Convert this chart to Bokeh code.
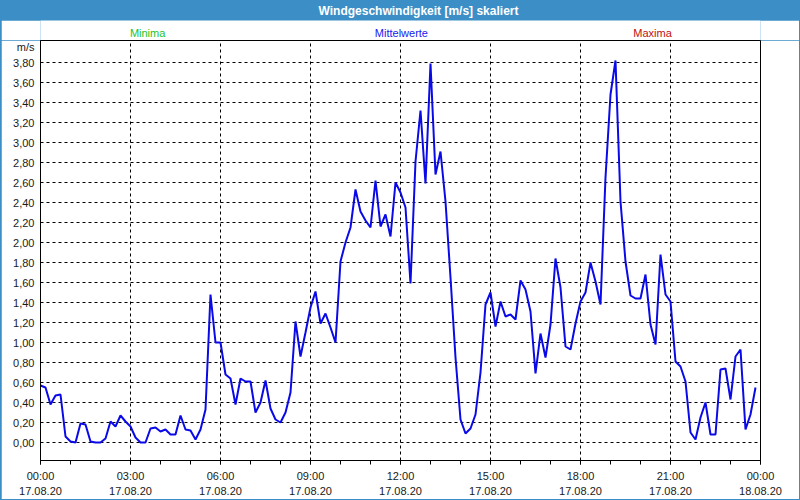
from bokeh.plotting import figure
from bokeh.layouts import column
from bokeh.models import Range1d, FixedTicker, LinearAxis, CustomJSTickFormatter
from bokeh.core.properties import value
from bokeh.embed import file_html
from bokeh.resources import INLINE

title_text = "Windgeschwindigkeit [m/s] skaliert"
series_names = ["Minima", "Mittelwerte", "Maxima"]
series_colors = ["#22c322", "#2020ee", "#c01010"]
unit_label = "m/s"

step_minutes = 10
wind_ms = [
    0.57, 0.55, 0.38, 0.47, 0.48, 0.06,
    0.01, 0.00, 0.19, 0.18, 0.01, 0.00,
    0.00, 0.04, 0.21, 0.16, 0.27, 0.21,
    0.16, 0.05, 0.00, 0.00, 0.14, 0.15,
    0.11, 0.13, 0.08, 0.08, 0.27, 0.13,
    0.12, 0.03, 0.13, 0.33, 1.48, 1.00,
    1.00, 0.68, 0.64, 0.38, 0.64, 0.61,
    0.61, 0.30, 0.40, 0.62, 0.34, 0.23,
    0.20, 0.30, 0.50, 1.21, 0.86, 1.10,
    1.35, 1.51, 1.19, 1.29, 1.15, 1.00,
    1.81, 2.00, 2.15, 2.53, 2.31, 2.22,
    2.15, 2.62, 2.16, 2.28, 2.06, 2.60,
    2.50, 2.35, 1.59, 2.81, 3.32, 2.59,
    3.79, 2.68, 2.91, 2.41, 1.65, 0.85,
    0.23, 0.09, 0.14, 0.28, 0.70, 1.38,
    1.50, 1.16, 1.41, 1.26, 1.28, 1.23,
    1.62, 1.53, 1.31, 0.69, 1.09, 0.85,
    1.18, 1.84, 1.55, 0.96, 0.93, 1.19,
    1.41, 1.50, 1.80, 1.61, 1.38, 2.65,
    3.48, 3.82, 2.41, 1.81, 1.47, 1.44,
    1.44, 1.68, 1.18, 0.98, 1.88, 1.48,
    1.41, 0.81, 0.76, 0.61, 0.10, 0.03,
    0.25, 0.40, 0.08, 0.08, 0.73, 0.74,
    0.43, 0.86, 0.93, 0.13, 0.28, 0.55,
]
hours = [i * step_minutes / 60 for i in range(len(wind_ms))]

time_ticks = [0, 3, 6, 9, 12, 15, 18, 21, 24]
time_labels = ["00:00", "03:00", "06:00", "09:00", "12:00", "15:00", "18:00", "21:00", "00:00"]
date_labels = ["17.08.20"] * 8 + ["18.08.20"]
y_ticks = [round(0.2 * i, 2) for i in range(20)]
unit_tick = 3.96  # where the unit text sits on the value axis

# layout positions (hours on the shared time scale)
title_pos = 12.6
series_pos = [3.57, 12.03, 20.4]

FONT = "Liberation Sans"
BLUE_BAR = "#3c8fc6"
TXT = "#1a1a1a"


def bare(fig, fill):
    fig.title.visible = False
    fig.outline_line_color = None
    fig.grid.visible = False
    fig.background_fill_color = fill
    fig.border_fill_color = fill
    return fig


# ---------- title bar ----------
bar = bare(figure(width=798, height=20, output_backend="svg", toolbar_location=None,
                  x_range=Range1d(0, 24), y_range=Range1d(0, 20),
                  min_border_left=39, min_border_right=39, min_border_top=0,
                  min_border_bottom=0, x_axis_location=None, y_axis_location=None),
           BLUE_BAR)
bar.text(x=[title_pos], y=[10], text=[title_text], text_color="white",
         text_font=value(FONT), text_font_style="bold", text_font_size="12px",
         text_align="center", text_baseline="middle")

# ---------- series names ----------
names = bare(figure(width=798, height=20, output_backend="svg", toolbar_location=None,
                    x_range=Range1d(0, 24), y_range=Range1d(20, 0),
                    min_border_left=39, min_border_right=39, min_border_top=0,
                    min_border_bottom=0, x_axis_location=None, y_axis_location=None),
             "white")
names.text(x=series_pos, y=[12, 12, 12], text=series_names,
           text_color=series_colors, text_font=value(FONT), text_font_size="11px",
           text_align="center", text_baseline="middle")

# ---------- main chart ----------
p = figure(width=798, height=459, output_backend="svg", toolbar_location=None,
           x_range=Range1d(0, 24), y_range=Range1d(-0.18, 4.02),
           min_border_left=39, min_border_right=39, min_border_top=0,
           min_border_bottom=39, x_axis_location=None, y_axis_location=None)
p.title.visible = False
p.background_fill_color = "white"
p.border_fill_color = "white"
p.outline_line_color = "black"
p.outline_line_width = 1
p.outline_line_alpha = 1

yax = LinearAxis(ticker=FixedTicker(ticks=y_ticks + [unit_tick]),
                 formatter=CustomJSTickFormatter(
                     args=dict(unit=unit_label, ut=unit_tick),
                     code="if (Math.abs(tick - ut) < 1e-6) return unit;"
                          " return tick.toFixed(2).replace('.', ',');"))
yax.major_tick_out = 0
yax.major_tick_in = 0
yax.minor_tick_out = 0
yax.major_label_standoff = 6
yax.major_label_text_font = FONT
yax.major_label_text_font_size = "11px"
yax.major_label_text_color = TXT
yax.axis_line_color = "black"
p.add_layout(yax, "left")

xax = LinearAxis(ticker=FixedTicker(ticks=time_ticks, minor_ticks=list(range(25))))
xax.major_label_overrides = {t: l for t, l in zip(time_ticks, time_labels)}
xax.major_tick_out = 4
xax.major_tick_in = 0
xax.minor_tick_out = 4
xax.minor_tick_in = 0
xax.major_label_standoff = 5
xax.major_label_text_font = FONT
xax.major_label_text_font_size = "11px"
xax.major_label_text_color = TXT
xax.axis_line_color = "black"
p.add_layout(xax, "below")

dax = LinearAxis(ticker=FixedTicker(ticks=time_ticks))
dax.major_label_overrides = {t: l for t, l in zip(time_ticks, date_labels)}
dax.major_tick_out = 0
dax.major_tick_in = 0
dax.minor_tick_out = 0
dax.major_label_standoff = 2
dax.axis_line_color = None
dax.major_label_text_font = FONT
dax.major_label_text_font_size = "11px"
dax.major_label_text_color = TXT
p.add_layout(dax, "below")

p.xgrid.ticker = FixedTicker(ticks=time_ticks)
p.ygrid.ticker = FixedTicker(ticks=y_ticks)
for g in (p.xgrid, p.ygrid):
    g.grid_line_color = "black"
    g.grid_line_dash = "3 3"
    g.grid_line_width = 1
    g.grid_line_alpha = 1

p.line(hours, wind_ms, line_color="#0a0ae8", line_width=2)

page = column(bar, names, p, spacing=0,
              styles={"background-color": BLUE_BAR, "padding": "0px 1px 1px 1px",
                      "width": "800px", "height": "500px", "box-sizing": "border-box",
                      "gap": "0px"})

open("out.html", "w").write(file_html(page, INLINE))
